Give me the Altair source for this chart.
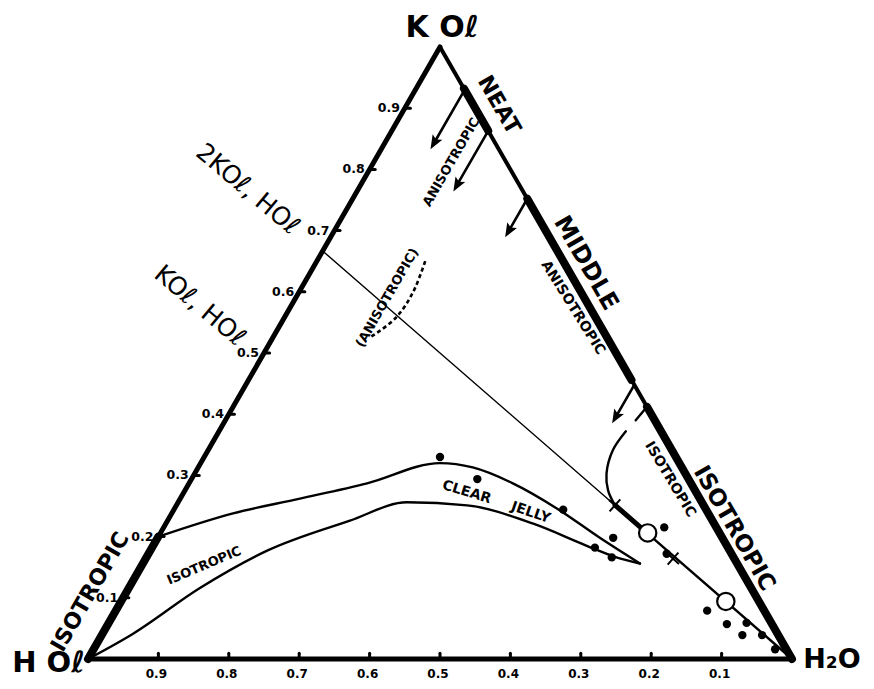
import altair as alt
import numpy as np
import pandas as pd

# ---------------- data: ternary compositions (KOl fraction, H2O fraction; HOl = rest)
tick_values = [0.1, 0.2, 0.3, 0.4, 0.5, 0.6, 0.7, 0.8, 0.9]
tick_labels = ["0.1", "0.2", "0.3", "0.4", "0.5", "0.6", "0.7", "0.8", "0.9"]

jelly_dot_kol = [0.330, 0.294, 0.244, 0.198, 0.182, 0.166]
jelly_dot_h2o = [0.335, 0.406, 0.553, 0.647, 0.629, 0.661]
dilute_dot_kol = [0.215, 0.172, 0.079, 0.057, 0.039, 0.059, 0.039, 0.016]
dilute_dot_h2o = [0.711, 0.736, 0.840, 0.879, 0.910, 0.906, 0.938, 0.968]
open_kol = [0.206, 0.094]
open_h2o = [0.692, 0.859]
cross_kol = [0.251, 0.164]
cross_h2o = [0.623, 0.749]

upper_kol = [0.200, 0.238, 0.262, 0.287, 0.320, 0.313, 0.287, 0.246, 0.198, 0.156]
upper_h2o = [0.000, 0.087, 0.170, 0.253, 0.340, 0.390, 0.460, 0.543, 0.628, 0.706]
lower_kol = [0.000, 0.041, 0.116, 0.177, 0.226, 0.256, 0.251, 0.221, 0.185, 0.167, 0.156]
lower_h2o = [0.000, 0.043, 0.101, 0.166, 0.259, 0.325, 0.413, 0.522, 0.616, 0.665, 0.706]

iso_a_kol = [0.412, 0.390]
iso_a_h2o = [0.588, 0.583]
iso_b_kol = [0.372, 0.341, 0.303, 0.2755, 0.251]
iso_b_h2o = [0.578, 0.575, 0.585, 0.601, 0.623]

dash_kol = [0.650, 0.600, 0.559, 0.533, 0.526]
dash_h2o = [0.154, 0.162, 0.159, 0.144, 0.138]

arrow_start_kol = [0.930, 0.863, 0.752, 0.448]
arrow_tip_kol = [0.833, 0.764, 0.689, 0.385]
arrow_h2o = [0.070, 0.137, 0.248, 0.552]

neat_range = [0.863, 0.932]
middle_range = [0.456, 0.752]
iso_range = [0.0, 0.412]
left_iso_range = [0.0, 0.2]
tie_kol = 2.0 / 3.0
tie_breaks = [0.0, 0.623, 0.692, 1.0]

label_text = ["K Oℓ", "H Oℓ", "NEAT", "MIDDLE", "ISOTROPIC", "ISOTROPIC"]
label_x = [0.503, -0.056, 0.584, 0.707, 0.918, 0.003]
label_y = [0.893, -0.006, 0.784, 0.560, 0.185, 0.095]
label_angle = [0, 0, 60, 60, 60, 300]
label_size = [30, 29, 22, 24, 23, 22]

water_text = ["H₂O"]
water_x = [1.016]
water_y = [-0.002]
water_size = [27]

comp_text = ["2KOℓ, HOℓ", "KOℓ, HOℓ"]
comp_x = [0.227, 0.159]
comp_y = [0.665, 0.500]
comp_angle = [40, 40]
comp_size = [25, 25]

small_text = ["ANISOTROPIC", "ANISOTROPIC", "(ANISOTROPIC)", "ISOTROPIC",
              "CLEAR", "JELLY", "ISOTROPIC"]
small_x = [0.516, 0.689, 0.425, 0.827, 0.538, 0.629, 0.165]
small_y = [0.703, 0.497, 0.511, 0.254, 0.236, 0.207, 0.132]
small_angle = [300, 58, 300, 59, 17, 19, 337]
small_size = [13, 14, 13, 14, 14, 14, 13]

# ---------------- geometry helpers
S3 = np.sqrt(3) / 2


def cart(k, w):
    return w + k / 2.0, k * S3


XS = alt.Scale(domain=[-0.113636, 1.105114], nice=False, zero=False)
YS = alt.Scale(domain=[-0.03114, 0.92118], nice=False, zero=False)


def xy():
    return dict(x=alt.X("x:Q", scale=XS, axis=None), y=alt.Y("y:Q", scale=YS, axis=None))


rules = []


def add_rule(k1, w1, k2, w2, width):
    x1, y1 = cart(k1, w1)
    x2, y2 = cart(k2, w2)
    rules.append(dict(x=x1, y=y1, x2=x2, y2=y2, w=width))


# triangle edges
add_rule(0, 0, 0, 1, 5)          # base HOl - H2O
add_rule(0, 0, 1, 0, 5)          # HOl - KOl
add_rule(1, 0, 0, 1, 4)          # KOl - H2O
add_rule(left_iso_range[0], 0, left_iso_range[1], 0, 8)
for r in (neat_range, middle_range, iso_range):
    add_rule(r[0], 1 - r[0], r[1], 1 - r[1], 8)

# tie line 2KOl,HOl -> H2O
tie_widths = [1.4, 5, 2.5]
for i in range(3):
    t1, t2 = tie_breaks[i], tie_breaks[i + 1]
    add_rule(tie_kol * (1 - t1), t1, tie_kol * (1 - t2), t2, tie_widths[i])

# arrows
heads = []
back = 8.0 / 704
for ks, kt, w in zip(arrow_start_kol, arrow_tip_kol, arrow_h2o):
    xs, ys = cart(ks, w)
    xt, yt = cart(kt, w)
    hx, hy = xt + back * 0.5, yt + back * S3
    rules.append(dict(x=xs, y=ys, x2=hx, y2=hy, w=2.6))
    heads.append(dict(x=hx, y=hy))

# ticks
tick_rows = []
for v, lab in zip(tick_values, tick_labels):
    lx, ly = cart(v, 0)
    rules.append(dict(x=lx, y=ly, x2=lx + 0.008, y2=ly, w=3))
    bx, by = cart(0, 1 - v)
    rules.append(dict(x=bx, y=by, x2=bx, y2=by + 0.008, w=3))
    tick_rows.append(dict(x=lx, y=ly, bx=bx, by=by, t=lab))

rule_df = pd.DataFrame(rules)
tick_df = pd.DataFrame(tick_rows)
head_df = pd.DataFrame(heads)


def pts(kl, wl, seg=0):
    rows = []
    for i, (k, w) in enumerate(zip(kl, wl)):
        x, y = cart(k, w)
        rows.append(dict(x=x, y=y, i=i, seg=seg))
    return pd.DataFrame(rows)


jelly_df = pd.concat([pts(upper_kol, upper_h2o, 0), pts(lower_kol, lower_h2o, 1)])
iso_df = pd.concat([pts(iso_a_kol, iso_a_h2o, 2), pts(iso_b_kol, iso_b_h2o, 3)])
dash_df = pts(dash_kol, dash_h2o, 0)
dots_df = pd.concat([pts(jelly_dot_kol, jelly_dot_h2o), pts(dilute_dot_kol, dilute_dot_h2o)])
open_df = pts(open_kol, open_h2o)
cross_df = pts(cross_kol, cross_h2o)

rule_layer = alt.Chart(rule_df).mark_rule(color="black", strokeCap="round").encode(
    **xy(), x2="x2:Q", y2="y2:Q", strokeWidth=alt.StrokeWidth("w:Q", scale=None))

jelly_layer = alt.Chart(jelly_df).mark_line(
    color="black", strokeWidth=2.4, interpolate="monotone", strokeCap="round"
).encode(**xy(), order="i:Q", detail="seg:N")

iso_layer = alt.Chart(iso_df).mark_line(
    color="black", strokeWidth=2.4, interpolate="catmull-rom", strokeCap="round"
).encode(**xy(), order="i:Q", detail="seg:N")

dash_layer = alt.Chart(dash_df).mark_line(
    color="black", strokeWidth=2.6, interpolate="catmull-rom", strokeDash=[4, 3]
).encode(**xy(), order="i:Q")

head_layer = alt.Chart(head_df).mark_point(
    shape="M0,-1L0.7,0.75L0,0.4L-0.7,0.75Z", filled=True, color="black", opacity=1,
    size=256, angle=210).encode(**xy())

open_layer = alt.Chart(open_df).mark_point(
    shape="circle", filled=False, fill="white", fillOpacity=1, stroke="black",
    strokeWidth=2.2, size=300, opacity=1).encode(**xy())

dots_layer = alt.Chart(dots_df).mark_circle(color="black", size=70, opacity=1).encode(**xy())

cross_layer = alt.Chart(cross_df).mark_point(
    shape="M-1,0L1,0M0,-1L0,1", filled=False, stroke="black", strokeWidth=2,
    size=256, angle=42, opacity=1).encode(**xy())


def text_layer(text, xs, ys, angles, sizes, weight, align="center"):
    df = pd.DataFrame(dict(t=text, x=xs, y=ys, a=angles, s=sizes))
    return alt.Chart(df).mark_text(
        font="DejaVu Sans", fontWeight=weight, color="black", align=align, baseline="middle"
    ).encode(**xy(), text="t:N", angle=alt.Angle("a:Q", scale=None),
             size=alt.Size("s:Q", scale=None))


big_text = text_layer(label_text, label_x, label_y, label_angle, label_size, "bold")
water_layer = text_layer(water_text, water_x, water_y, [0], water_size, "bold", align="left")
comp_layer = text_layer(comp_text, comp_x, comp_y, comp_angle, comp_size, "normal")
small_layer = text_layer(small_text, small_x, small_y, small_angle, small_size, "bold")

left_tick_text = alt.Chart(tick_df).mark_text(
    font="DejaVu Sans", fontWeight="bold", fontSize=12.5, dx=-16, align="center",
    baseline="middle", color="black").encode(**xy(), text="t:N")
bottom_tick_text = alt.Chart(tick_df).mark_text(
    font="DejaVu Sans", fontWeight="bold", fontSize=12, dx=-2, dy=15, align="center",
    baseline="middle", color="black").encode(
    x=alt.X("bx:Q", scale=XS, axis=None), y=alt.Y("by:Q", scale=YS, axis=None), text="t:N")

chart = alt.layer(
    rule_layer, jelly_layer, iso_layer, dash_layer, head_layer, open_layer, dots_layer,
    cross_layer, big_text, water_layer, comp_layer, small_layer, left_tick_text,
    bottom_tick_text
).properties(
    width=858, height=673, padding=0,
    autosize=alt.AutoSizeParams(type="none"),
    background="white",
).configure_view(stroke=None)

chart.save("out.html", embed_options={"renderer": "svg", "actions": False})
